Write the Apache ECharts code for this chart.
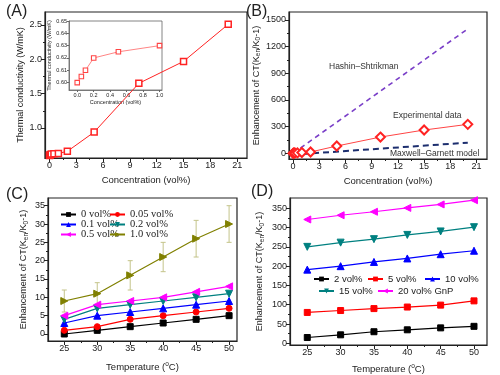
<!DOCTYPE html>
<html>
<head>
<meta charset="utf-8">
<script src="https://cdn.jsdelivr.net/npm/echarts@6.0.0/dist/echarts.min.js"></script>
<style>
  html, body { margin: 0; padding: 0; background: #fff; }
  #chart { width: 500px; height: 375px; }
</style>
</head>
<body>
<div id="chart"></div>
<script>
// ---- data ----
// (A) thermal conductivity vs concentration
const concA = [0, 0.05, 0.1, 0.2, 0.5, 1, 2, 5, 10, 15, 20];
const kA = [0.600, 0.605, 0.610, 0.620, 0.625, 0.630, 0.66, 0.94, 1.65, 1.97, 2.51];
const concInset = [0, 0.05, 0.1, 0.2, 0.5, 1.0];
const kInset = [0.600, 0.605, 0.610, 0.620, 0.625, 0.630];

// (B) enhancement vs concentration, with model lines
const concB = [0, 0.05, 0.1, 0.2, 0.5, 1, 2, 5, 10, 15, 20];
const expB = [0, 1, 3, 4, 5, 9, 15, 82, 183, 262, 326];
const modelConc = [0, 20];
const hashinB = [0, 1400];
const maxwellB = [-15, 120];

// (C) low concentrations vs temperature
const tempC = [25, 30, 35, 40, 45, 50];
const c0 = [0, 1, 2, 3, 4, 5];
const c005 = [1, 2, 4, 5, 6, 7];
const c01 = [3, 5, 6, 7, 8, 9];
const c02 = [4, 7, 8, 9, 10, 11];
const c05 = [5, 8, 9, 10, 11.5, 13];
const c10 = [9, 11, 16, 21, 26, 30];
const c10err = [3, 3, 4, 4, 5, 5];

// (D) high concentrations vs temperature
const tempD = [25, 30, 35, 40, 45, 50];
const d2 = [15, 22, 30, 35, 40, 44];
const d5 = [80, 85, 90, 94, 99, 110];
const d10 = [191, 200, 211, 220, 231, 240];
const d15 = [250, 261, 270, 281, 290, 301];
const d20 = [321, 332, 341, 351, 360, 371];

// tick labels
const ticksConc = [0, 3, 6, 9, 12, 15, 18, 21];
const ticksKA = [1.0, 1.5, 2.0, 2.5];
const ticksInsetX = [0.0, 0.2, 0.4, 0.6, 0.8, 1.0];
const ticksInsetY = [0.60, 0.61, 0.62, 0.63, 0.64, 0.65];
const ticksB = [0, 300, 600, 900, 1200, 1500];
const ticksTemp = [25, 30, 35, 40, 45, 50];
const ticksC = [0, 5, 10, 15, 20, 25, 30, 35];
const ticksD = [0, 50, 100, 150, 200, 250, 300, 350];

const SANS = "'Liberation Sans', Arial, sans-serif";
const SERIF = "'Liberation Serif', 'Times New Roman', serif";
const INK = '#222';

const zip = (xs, ys) => xs.map((x, i) => [x, ys[i]]);
const mids = (t) => t.slice(1).map((v, i) => (v + t[i]) / 2);

function mainAxis(grid, pos, min, max, ticks, extra) {
  return Object.assign({
    type: 'value', gridIndex: grid, position: pos, min: min, max: max,
    axisLine: { show: true, onZero: false, lineStyle: { color: INK, width: 1.2 } },
    axisTick: { show: true, length: 4, customValues: ticks, lineStyle: { color: INK } },
    axisLabel: { customValues: ticks, fontFamily: SANS, fontSize: 9, color: INK, margin: 3, formatter: (v) => String(v) },
    splitLine: { show: false },
    nameLocation: 'middle',
    nameTextStyle: { fontFamily: SANS, fontSize: 9.5, color: INK }
  }, extra || {});
}

function minorAxis(grid, pos, min, max, ticks) {
  return {
    type: 'value', gridIndex: grid, position: pos, min: min, max: max,
    axisLine: { show: false, onZero: false }, axisLabel: { show: false }, splitLine: { show: false },
    axisTick: { show: true, length: 2, customValues: mids(ticks), lineStyle: { color: INK } }
  };
}

const subRich = {
  sub: { fontFamily: SANS, fontSize: 6.5, color: INK, padding: [5, 0, 0, 0] },
  sup: { fontFamily: SANS, fontSize: 6.5, color: INK, padding: [0, 0, 5, 0] }
};
const ctName = 'Enhancement of CT(K{sub|en}/K{sub|0}-1)';
const tempName = 'Temperature ({sup|o}C)';
const yNameStyle = { fontFamily: SANS, fontSize: 9, color: INK, rich: subRich };
const tNameStyle = { fontFamily: SANS, fontSize: 9.5, color: INK, rich: subRich };

const xAxes = [
  mainAxis(0, 'bottom', -0.5, 22.1, ticksConc, { name: 'Concentration (vol%)', nameGap: 17 }),
  minorAxis(0, 'bottom', -0.5, 22.1, ticksConc),
  mainAxis(1, 'bottom', -0.1, 1.03, ticksInsetX, {
    name: 'Concentration (vol%)', nameGap: 9,
    axisLine: { show: true, onZero: false, lineStyle: { color: '#666', width: 0.8 } },
    axisTick: { show: true, length: 2, customValues: ticksInsetX, lineStyle: { color: '#666' } },
    axisLabel: { customValues: ticksInsetX, fontFamily: SANS, fontSize: 5.5, color: INK, margin: 2, formatter: (v) => v.toFixed(1) },
    nameTextStyle: { fontFamily: SANS, fontSize: 5.5, color: INK }
  }),
  mainAxis(2, 'bottom', -0.47, 22.2, ticksConc, { name: 'Concentration (vol%)', nameGap: 17 }),
  minorAxis(2, 'bottom', -0.47, 22.2, ticksConc),
  mainAxis(3, 'bottom', 22.53, 51.2, ticksTemp, { name: tempName, nameGap: 20, nameTextStyle: tNameStyle }),
  minorAxis(3, 'bottom', 22.53, 51.2, ticksTemp),
  mainAxis(4, 'bottom', 22.41, 51.95, ticksTemp, { name: tempName, nameGap: 18, nameTextStyle: tNameStyle }),
  minorAxis(4, 'bottom', 22.41, 51.95, ticksTemp)
];

const yAxes = [
  mainAxis(0, 'left', 0.563, 2.689, ticksKA, {
    name: 'Thermal conductivity (W/mK)', nameGap: 20,
    axisLabel: { customValues: ticksKA, fontFamily: SANS, fontSize: 9, color: INK, margin: 3, formatter: (v) => v.toFixed(1) },
    nameTextStyle: { fontFamily: SANS, fontSize: 9, color: INK }
  }),
  minorAxis(0, 'left', 0.563, 2.689, ticksKA),
  mainAxis(1, 'left', 0.594, 0.65, ticksInsetY, {
    name: 'Thermal conductivity (W/mK)', nameGap: 14,
    axisLine: { show: true, onZero: false, lineStyle: { color: '#666', width: 0.8 } },
    axisTick: { show: true, length: 2, customValues: ticksInsetY, lineStyle: { color: '#666' } },
    axisLabel: { customValues: ticksInsetY, fontFamily: SANS, fontSize: 5.5, color: INK, margin: 2, formatter: (v) => v.toFixed(2) },
    nameTextStyle: { fontFamily: SANS, fontSize: 5.5, color: INK }
  }),
  mainAxis(2, 'left', -64, 1590, ticksB, { name: ctName, nameGap: 23, nameTextStyle: yNameStyle }),
  minorAxis(2, 'left', -64, 1590, ticksB),
  mainAxis(3, 'left', -1.91, 37.1, ticksC, { name: ctName, nameGap: 18, nameTextStyle: yNameStyle }),
  minorAxis(3, 'left', -1.91, 37.1, ticksC),
  mainAxis(4, 'left', -4.4, 376.7, ticksD, { name: ctName, nameGap: 24, nameTextStyle: yNameStyle }),
  minorAxis(4, 'left', -4.4, 376.7, ticksD)
];

const frame = { show: true, borderColor: INK, borderWidth: 1.2, backgroundColor: 'transparent' };

function lineSeries(name, xi, yi, xs, ys, color, symbol, size, extra) {
  return Object.assign({
    name: name, type: 'line', xAxisIndex: xi, yAxisIndex: yi,
    data: zip(xs, ys), symbol: symbol, symbolSize: size,
    lineStyle: { color: color, width: 1.2 },
    itemStyle: { color: color, borderColor: color },
    animation: false
  }, extra || {});
}

const hollow = (color, bw) => ({ color: '#fff', borderColor: color, borderWidth: bw });

function legendItem(name, left, cy, font) {
  return {
    data: [name], left: left, top: cy - 6, padding: 0, itemGap: 0,
    itemWidth: 15, itemHeight: 6, selectedMode: false,
    textStyle: { fontFamily: font, fontSize: font === SERIF ? 10.5 : 9.5, color: INK }
  };
}

const option = {
  animation: false,
  grid: [
    Object.assign({ left: 45, top: 12, width: 202, height: 146 }, frame),
    { left: 69, top: 21, width: 93, height: 69, show: true, borderColor: '#666', borderWidth: 0.8, backgroundColor: '#fff' },
    Object.assign({ left: 289, top: 12, width: 198, height: 147 }, frame),
    Object.assign({ left: 48, top: 198, width: 189, height: 143 }, frame),
    Object.assign({ left: 290, top: 198, width: 197, height: 147 }, frame)
  ],
  xAxis: xAxes,
  yAxis: yAxes,
  legend: [
    legendItem('0 vol%', 60, 215, SERIF),
    legendItem('0.05 vol%', 109, 215, SERIF),
    legendItem('0.1 vol%', 60, 225, SERIF),
    legendItem('0.2 vol%', 109, 225, SERIF),
    legendItem('0.5 vol%', 60, 235, SERIF),
    legendItem('1.0 vol%', 109, 235, SERIF),
    legendItem('2 vol%', 313, 280, SANS),
    legendItem('5 vol%', 367, 280, SANS),
    legendItem('10 vol%', 424, 280, SANS),
    legendItem('15 vol%', 318, 292, SANS),
    legendItem('20 vol% GnP', 377, 292, SANS)
  ],
  series: [
    // (A)
    lineSeries('A', 0, 0, concA, kA, '#f22', 'rect', 6, { itemStyle: hollow('#f22', 1.5), lineStyle: { color: '#f22', width: 1 } }),
    lineSeries('A inset', 2, 2, concInset, kInset, '#f44', 'rect', 4.5, { itemStyle: hollow('#f44', 1.1), lineStyle: { color: '#f66', width: 0.8 } }),
    // (B)
    lineSeries('Hashin', 3, 3, modelConc, hashinB, '#7a3fc8', 'none', 0, { lineStyle: { color: '#7a3fc8', width: 1.6, type: [5, 4] } }),
    lineSeries('Maxwell', 3, 3, modelConc, maxwellB, '#1c2e6e', 'none', 0, { lineStyle: { color: '#1c2e6e', width: 2, type: [6, 4] } }),
    lineSeries('Experimental', 3, 3, concB, expB, '#f22', 'diamond', 9, { itemStyle: hollow('#f22', 2), lineStyle: { color: '#f44', width: 1 } }),
    // (C)
    {
      type: 'custom', xAxisIndex: 5, yAxisIndex: 5, z: 1,
      data: tempC.map((t, i) => [t, c10[i] - c10err[i], c10[i] + c10err[i]]),
      renderItem: (params, api) => {
        const lo = api.coord([api.value(0), api.value(1)]);
        const hi = api.coord([api.value(0), api.value(2)]);
        const st = { stroke: '#c4c48a', lineWidth: 1 };
        return {
          type: 'group', children: [
            { type: 'line', shape: { x1: lo[0], y1: lo[1], x2: hi[0], y2: hi[1] }, style: st },
            { type: 'line', shape: { x1: lo[0] - 2.5, y1: lo[1], x2: lo[0] + 2.5, y2: lo[1] }, style: st },
            { type: 'line', shape: { x1: hi[0] - 2.5, y1: hi[1], x2: hi[0] + 2.5, y2: hi[1] }, style: st }
          ]
        };
      }
    },
    lineSeries('0 vol%', 5, 5, tempC, c0, '#000', 'rect', 6),
    lineSeries('0.05 vol%', 5, 5, tempC, c005, '#ff0000', 'circle', 6),
    lineSeries('0.1 vol%', 5, 5, tempC, c01, '#0000ff', 'triangle', 7),
    lineSeries('0.2 vol%', 5, 5, tempC, c02, '#008080', 'triangle', 7, { symbolRotate: 180 }),
    lineSeries('0.5 vol%', 5, 5, tempC, c05, '#ff00ff', 'triangle', 7, { symbolRotate: 90 }),
    lineSeries('1.0 vol%', 5, 5, tempC, c10, '#808000', 'triangle', 7, { symbolRotate: -90 }),
    // (D)
    lineSeries('2 vol%', 7, 7, tempD, d2, '#000', 'rect', 6),
    lineSeries('5 vol%', 7, 7, tempD, d5, '#ff0000', 'rect', 6),
    lineSeries('10 vol%', 7, 7, tempD, d10, '#0000ff', 'triangle', 7),
    lineSeries('15 vol%', 7, 7, tempD, d15, '#008080', 'triangle', 7, { symbolRotate: 180 }),
    lineSeries('20 vol% GnP', 7, 7, tempD, d20, '#ff00ff', 'triangle', 7, { symbolRotate: 90 })
  ],
  graphic: [
    { type: 'text', left: 6, top: 4, style: { text: '(A)', font: '16px ' + SANS, fill: INK } },
    { type: 'text', left: 246, top: 4, style: { text: '(B)', font: '16px ' + SANS, fill: INK } },
    { type: 'text', left: 6, top: 187, style: { text: '(C)', font: '16px ' + SANS, fill: INK } },
    { type: 'text', left: 251, top: 184, style: { text: '(D)', font: '16px ' + SANS, fill: INK } },
    { type: 'text', left: 329, top: 62, style: { text: 'Hashin\u2013Shtrikman', font: '8.5px ' + SANS, fill: '#333' } },
    { type: 'text', left: 393, top: 111, style: { text: 'Experimental data', font: '8.5px ' + SANS, fill: '#333' } },
    { type: 'text', left: 390, top: 149, style: { text: 'Maxwell\u2013Garnett model', font: '8.5px ' + SANS, fill: '#333' } }
  ]
};

const myChart = echarts.init(document.getElementById('chart'), null, { renderer: 'canvas' });
myChart.setOption(option);
</script>
</body>
</html>
